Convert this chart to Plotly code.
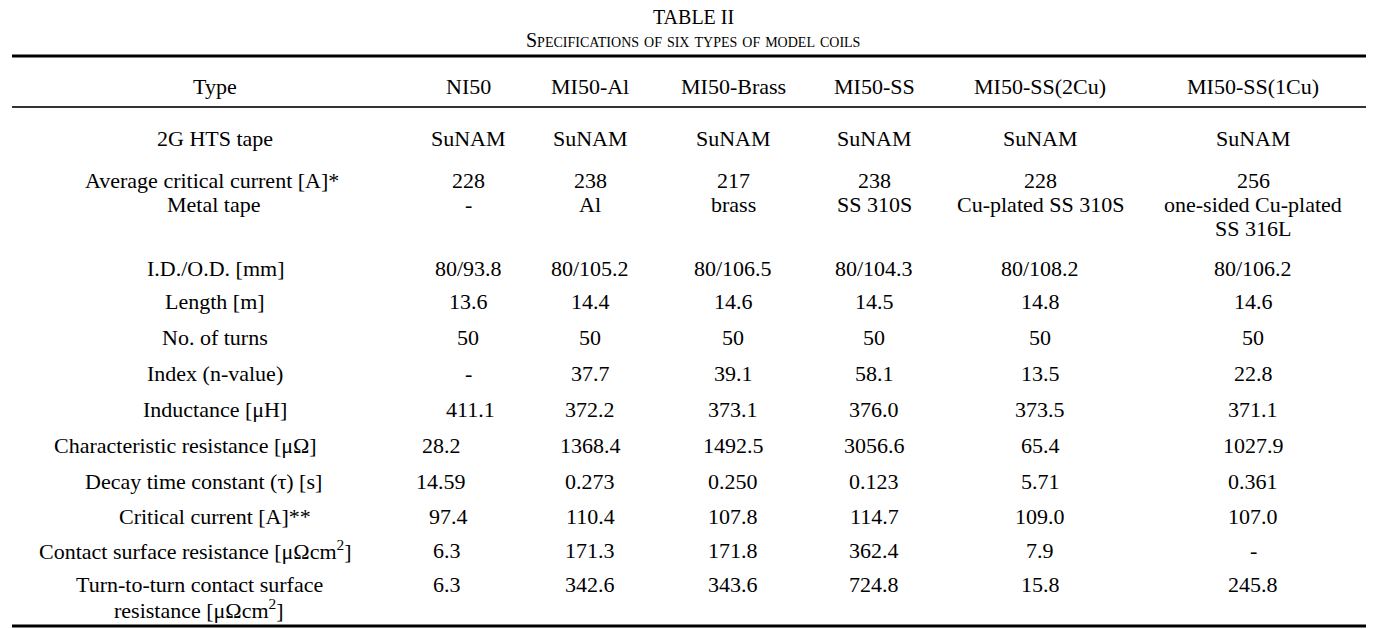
import plotly.graph_objects as go

# ---------------- data ----------------
title = "TABLE II"
subtitle = "Specifications of six types of model coils"
header_label = "Type"
coil_types = ["NI50", "MI50-Al", "MI50-Brass", "MI50-SS", "MI50-SS(2Cu)", "MI50-SS(1Cu)"]

row_labels = [
    ["2G HTS tape"],
    ["Average critical current [A]*"],
    ["Metal tape"],
    ["I.D./O.D. [mm]"],
    ["Length [m]"],
    ["No. of turns"],
    ["Index (n-value)"],
    ["Inductance [μH]"],
    ["Characteristic resistance [μΩ]"],
    ["Decay time constant (τ) [s]"],
    ["Critical current [A]**"],
    ["Contact surface resistance [μΩcm<sup>2</sup>]"],
    ["Turn-to-turn contact surface", "resistance [μΩcm<sup>2</sup>]"],
]

hts_tape = ["SuNAM", "SuNAM", "SuNAM", "SuNAM", "SuNAM", "SuNAM"]
avg_critical_current = ["228", "238", "217", "238", "228", "256"]
metal_tape = [["-"], ["Al"], ["brass"], ["SS 310S"], ["Cu-plated SS 310S"],
              ["one-sided Cu-plated", "SS 316L"]]
id_od = ["80/93.8", "80/105.2", "80/106.5", "80/104.3", "80/108.2", "80/106.2"]
length_m = ["13.6", "14.4", "14.6", "14.5", "14.8", "14.6"]
n_turns = ["50", "50", "50", "50", "50", "50"]
n_value = ["-", "37.7", "39.1", "58.1", "13.5", "22.8"]
inductance = ["411.1", "372.2", "373.1", "376.0", "373.5", "371.1"]
char_resistance = ["28.2", "1368.4", "1492.5", "3056.6", "65.4", "1027.9"]
decay_tau = ["14.59", "0.273", "0.250", "0.123", "5.71", "0.361"]
critical_current = ["97.4", "110.4", "107.8", "114.7", "109.0", "107.0"]
contact_res = ["6.3", "171.3", "171.8", "362.4", "7.9", "-"]
t2t_contact_res = ["6.3", "342.6", "343.6", "724.8", "15.8", "245.8"]

row_values = [hts_tape, avg_critical_current, metal_tape, id_od, length_m, n_turns,
              n_value, inductance, char_resistance, decay_tau, critical_current,
              contact_res, t2t_contact_res]

# ---------------- layout ----------------
W, H = 1386, 629
FONT = "Liberation Serif, Times New Roman, serif"
FS = 22
LINE = 24

label_x = 215
col_x = [468, 590, 733, 874, 1040, 1253]
row_y = [138, 180, 204, 268, 301, 337, 373, 409, 445, 481, 516, 550, 584]
# per-row horizontal placement of the label column (long labels sit left)
label_x_row = {1: 212, 2: 213, 8: 185, 9: 203, 11: 195, 12: 199}
# per-row horizontal placement of the first data column
first_col_x_row = {7: 470, 8: 441, 9: 441, 10: 448, 11: 447, 12: 447}

annotations = []


def add_text(x, y, text, size=FS, variant="normal"):
    annotations.append(dict(
        x=x, y=y, xref="x", yref="y", text=text, showarrow=False,
        xanchor="center", yanchor="middle",
        font=dict(family=FONT, size=size, color="black", variant=variant),
    ))


add_text(693, 17, title, size=20)
add_text(693, 40, subtitle, size=20, variant="small-caps")

header_y = 86
add_text(label_x, header_y, header_label)
for cx, t in zip(col_x, coil_types):
    add_text(cx, header_y, t)

for r, (labels, vals) in enumerate(zip(row_labels, row_values)):
    y0 = row_y[r]
    lx = label_x_row.get(r, label_x)
    for k, lab in enumerate(labels):
        add_text(lx, y0 + k * (LINE + 1), lab)
    for c, v in enumerate(vals):
        cx = col_x[c]
        if c == 0:
            cx = first_col_x_row.get(r, cx)
        lines = v if isinstance(v, list) else [v]
        for k, line in enumerate(lines):
            add_text(cx, y0 + k * LINE, line)

shapes = [
    dict(type="line", x0=12, x1=1366, y0=56, y1=56, xref="x", yref="y",
         line=dict(color="black", width=3)),
    dict(type="line", x0=12, x1=1366, y0=107, y1=107, xref="x", yref="y",
         line=dict(color="#333333", width=2)),
    dict(type="line", x0=12, x1=1366, y0=626, y1=626, xref="x", yref="y",
         line=dict(color="black", width=3)),
]

fig = go.Figure()
fig.update_layout(
    width=W, height=H,
    margin=dict(l=0, r=0, t=0, b=0),
    paper_bgcolor="white", plot_bgcolor="white",
    xaxis=dict(range=[0, W], visible=False, fixedrange=True),
    yaxis=dict(range=[H, 0], visible=False, fixedrange=True),
    annotations=annotations,
    shapes=shapes,
    showlegend=False,
)
fig.write_html(
    "out.html",
    config={"displayModeBar": False},
    post_script="document.body.style.margin='0px';document.body.style.overflow='hidden';",
)
